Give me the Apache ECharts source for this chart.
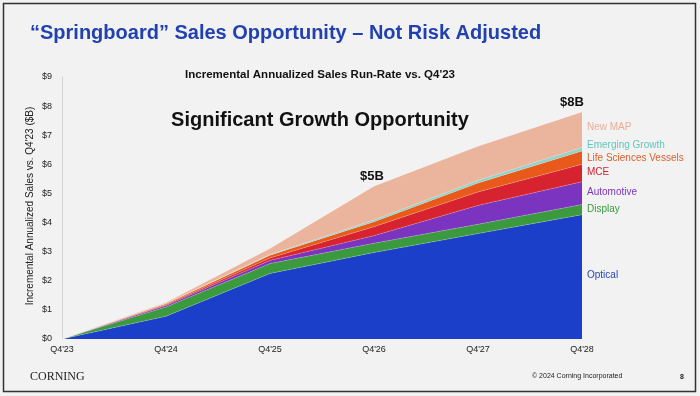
<!DOCTYPE html>
<html>
<head>
<meta charset="utf-8">
<script src="https://cdn.jsdelivr.net/npm/echarts@6/dist/echarts.min.js"></script>
<style>
  html, body { margin: 0; padding: 0; background: #f2f2f2; }
  #main { width: 700px; height: 396px; }
</style>
</head>
<body>
<div id="main"></div>
<script>
// categories and series values ($B, incremental vs Q4'23)
var quarters = ["Q4'23", "Q4'24", "Q4'25", "Q4'26", "Q4'27", "Q4'28"]
var yTicks = ['$0', '$1', '$2', '$3', '$4', '$5', '$6', '$7', '$8', '$9']

var optical = [0, 0.78, 2.25, 2.97, 3.62, 4.27]
var display = [0, 0.32, 0.34, 0.32, 0.32, 0.35]
var automotive = [0, 0.05, 0.11, 0.26, 0.65, 0.78]
var mce = [0, 0.03, 0.08, 0.31, 0.46, 0.60]
var lifeSciences = [0, 0.03, 0.10, 0.17, 0.31, 0.46]
var emerging = [0, 0.01, 0.02, 0.06, 0.09, 0.12]
var newMap = [0, 0.03, 0.21, 1.16, 1.17, 1.22]

var seriesNames = ['Optical', 'Display', 'Automotive', 'MCE', 'Life Sciences Vessels', 'Emerging Growth', 'New MAP']
var seriesData = [optical, display, automotive, mce, lifeSciences, emerging, newMap]
var colors = ['#1b3fc9', '#3b9a3e', '#7b34bf', '#d7232f', '#e95a1a', '#8fd3c9', '#ebb49c']
var labelColors = ['#2a44b8', '#3a9a3e', '#7b34bf', '#d42330', '#d9602a', '#62c6bd', '#e9ae95']

// right side label positions (px)
var labelY = [275, 209, 192, 172, 158, 145, 127]

var chart = echarts.init(document.getElementById('main'), null, { renderer: 'canvas' })

var series = seriesNames.map(function (name, i) {
  return {
    name: name,
    type: 'line',
    stack: 'total',
    symbol: 'none',
    smooth: false,
    lineStyle: { width: 0.6, color: 'rgba(255,255,255,0.35)' },
    areaStyle: { color: colors[i], opacity: 1 },
    itemStyle: { color: colors[i] },
    silent: true,
    data: seriesData[i]
  }
})

var graphics = [
  // slide border
  {
    type: 'rect',
    shape: { x: 3.5, y: 3.5, width: 692, height: 388 },
    style: { fill: null, stroke: '#333', lineWidth: 1.5 }
  },
  {
    type: 'text', left: 30, top: 23,
    style: {
      text: '\u201cSpringboard\u201d Sales Opportunity \u2013 Not Risk Adjusted',
      font: 'bold 20px "Liberation Sans", Arial, sans-serif', fill: '#2141b0'
    }
  },
  {
    type: 'text', x: 320, y: 75,
    style: {
      text: "Incremental Annualized Sales Run-Rate vs. Q4'23",
      font: 'bold 11.5px "Liberation Sans", Arial, sans-serif', fill: '#111',
      align: 'center', verticalAlign: 'middle'
    }
  },
  {
    type: 'text', x: 320, y: 120,
    style: {
      text: 'Significant Growth Opportunity',
      font: 'bold 20px "Liberation Sans", Arial, sans-serif', fill: '#111',
      align: 'center', verticalAlign: 'middle'
    }
  },
  {
    type: 'text', x: 372, y: 176,
    style: {
      text: '$5B', font: 'bold 13px "Liberation Sans", Arial, sans-serif', fill: '#111',
      align: 'center', verticalAlign: 'middle'
    }
  },
  {
    type: 'text', x: 572, y: 102,
    style: {
      text: '$8B', font: 'bold 13px "Liberation Sans", Arial, sans-serif', fill: '#111',
      align: 'center', verticalAlign: 'middle'
    }
  },
  // y axis title
  {
    type: 'text', x: 30, y: 206, rotation: Math.PI / 2,
    style: {
      text: "Incremental Annualized Sales vs. Q4'23 ($B)",
      font: '10px "Liberation Sans", Arial, sans-serif', fill: '#222',
      align: 'center', verticalAlign: 'middle'
    }
  },
  {
    type: 'text', x: 30, y: 377,
    style: {
      text: 'CORNING', font: '12px "Liberation Serif", "Times New Roman", serif', fill: '#222',
      verticalAlign: 'middle'
    }
  },
  {
    type: 'text', x: 532, y: 376,
    style: {
      text: '\u00a9 2024 Corning Incorporated', font: '7px "Liberation Sans", Arial, sans-serif', fill: '#222',
      verticalAlign: 'middle'
    }
  },
  {
    type: 'text', x: 680, y: 377,
    style: {
      text: '8', font: 'bold 7px "Liberation Sans", Arial, sans-serif', fill: '#222',
      verticalAlign: 'middle'
    }
  }
]

seriesNames.forEach(function (name, i) {
  graphics.push({
    type: 'text', x: 587, y: labelY[i],
    style: {
      text: name, font: '10px "Liberation Sans", Arial, sans-serif', fill: labelColors[i],
      verticalAlign: 'middle'
    }
  })
})

var option = {
  backgroundColor: '#f2f2f2',
  animation: false,
  grid: { left: 62, right: 118, top: 77, bottom: 57 },
  xAxis: {
    type: 'category',
    boundaryGap: false,
    data: quarters,
    axisLine: { show: false },
    axisTick: { show: false },
    axisLabel: {
      color: '#222', fontSize: 9, fontFamily: '"Liberation Sans", Arial, sans-serif',
      margin: 6
    }
  },
  yAxis: {
    type: 'value',
    min: 0,
    max: 9,
    interval: 1,
    axisLine: { show: true, lineStyle: { color: '#d4d4d4', width: 1 } },
    axisTick: { show: false },
    splitLine: { show: false },
    axisLabel: {
      color: '#222', fontSize: 9, fontFamily: '"Liberation Sans", Arial, sans-serif',
      margin: 10,
      formatter: function (v) { return yTicks[Math.round(v)] }
    }
  },
  graphic: graphics,
  series: series
}

chart.setOption(option)
</script>
</body>
</html>
